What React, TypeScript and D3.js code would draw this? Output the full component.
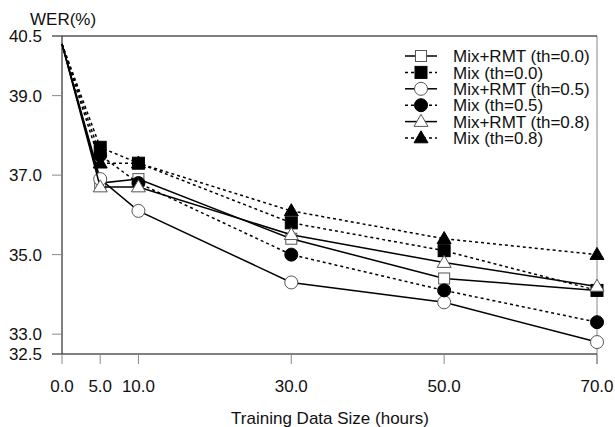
import React from 'react';
import * as d3 from 'd3';

const hours = [0, 5, 10, 30, 50, 70];
const xTicks = [0, 5, 10, 30, 50, 70];
const yTicks = [32.5, 33.0, 35.0, 37.0, 39.0, 40.5];

const seriesNames = [
  'Mix+RMT (th=0.0)',
  'Mix (th=0.0)',
  'Mix+RMT (th=0.5)',
  'Mix (th=0.5)',
  'Mix+RMT (th=0.8)',
  'Mix (th=0.8)',
];
const rmt00 = [40.3, 36.8, 36.9, 35.4, 34.4, 34.1];
const mix00 = [40.3, 37.7, 37.3, 35.8, 35.1, 34.1];
const rmt05 = [40.3, 36.9, 36.1, 34.3, 33.8, 32.8];
const mix05 = [40.3, 37.5, 36.8, 35.0, 34.1, 33.3];
const rmt08 = [40.3, 36.7, 36.7, 35.5, 34.8, 34.2];
const mix08 = [40.3, 37.3, 37.3, 36.1, 35.4, 35.0];

const seriesValues = [rmt00, mix00, rmt05, mix05, rmt08, mix08];
const shapes = ['square', 'square', 'circle', 'circle', 'triangle', 'triangle'];
const filled = [false, true, false, true, false, true];

const FONT = '"Liberation Sans", Arial, sans-serif';

function Marker({ shape, fill, cx, cy }: { shape: string; fill: boolean; cx: number; cy: number }) {
  const stroke = fill ? '#000' : '#555';
  const f = fill ? '#000' : '#fff';
  if (shape === 'square') {
    const s = fill ? 12 : 11;
    return <rect x={cx - s / 2} y={cy - s / 2} width={s} height={s} fill={f} stroke={stroke} strokeWidth={1} />;
  }
  if (shape === 'circle') {
    return <circle cx={cx} cy={cy} r={6.5} fill={f} stroke={stroke} strokeWidth={1} />;
  }
  const w = 14, h = 12;
  const pts = [[cx, cy - h * 0.6], [cx - w / 2, cy + h * 0.4], [cx + w / 2, cy + h * 0.4]];
  return <polygon points={pts.map(p => p.join(',')).join(' ')} fill={f} stroke={stroke} strokeWidth={1} />;
}

export default function App() {
  const width = 615;
  const height = 427;
  const left = 62, right = 597, top = 36, bottom = 354;

  const x = d3.scaleLinear().domain([0, 70]).range([left, right]);
  const y = d3.scaleLinear().domain([32.5, 40.5]).range([bottom, top]);
  const line = d3.line<number>().x((_, i) => x(hours[i])).y(d => y(d));

  const legendY0 = 56;
  const legendStep = 16.4;
  const fs = 17;

  return (
    <svg width={width} height={height} style={{ position: 'absolute', left: 0, top: 0 }} fontFamily={FONT}>
      <rect width={width} height={height} fill="#fff" />
      {/* frame */}
      <line x1={right} x2={right} y1={top} y2={bottom + 10} stroke="#888" strokeWidth={1} />
      <line x1={left - 10} x2={right} y1={top} y2={top} stroke="#000" strokeWidth={1} />
      <line x1={left - 10} x2={right} y1={bottom} y2={bottom} stroke="#000" strokeWidth={1} />
      <line x1={left} x2={left} y1={top} y2={bottom} stroke="#000" strokeWidth={1} />
      {yTicks.map(t => (
        <g key={'y' + t}>
          <line x1={left - 10} x2={left} y1={y(t)} y2={y(t)} stroke="#888" strokeWidth={1} />
          <text x={left - 20} y={y(t)} dy="0.36em" textAnchor="end" fontSize={fs} fill="#111">{t.toFixed(1)}</text>
        </g>
      ))}
      {xTicks.map(t => (
        <g key={'x' + t}>
          <line x1={x(t)} x2={x(t)} y1={bottom} y2={bottom + 10} stroke="#888" strokeWidth={1} />
          <text x={x(t)} y={392} textAnchor="middle" fontSize={fs} fill="#111">{t.toFixed(1)}</text>
        </g>
      ))}
      <text x={30} y={25} fontSize={fs} fill="#111">WER(%)</text>
      <text x={330} y={424} textAnchor="middle" fontSize={fs} fill="#111">Training Data Size (hours)</text>

      {seriesValues.map((vals, si) => (
        <g key={'s' + si}>
          <path d={line(vals) || ''} fill="none" stroke="#000" strokeWidth={1.5}
            strokeDasharray={filled[si] ? '3,3' : undefined} />
          {vals.slice(1).map((v, i) => (
            <Marker key={i} shape={shapes[si]} fill={filled[si]} cx={x(hours[i + 1])} cy={y(v)} />
          ))}
        </g>
      ))}

      {seriesNames.map((name, i) => {
        const ly = legendY0 + i * legendStep;
        return (
          <g key={'l' + i}>
            <line x1={405} x2={437} y1={ly} y2={ly} stroke="#000" strokeWidth={1.5}
              strokeDasharray={filled[i] ? '3,3' : undefined} />
            <Marker shape={shapes[i]} fill={filled[i]} cx={421} cy={ly} />
            <text x={453} y={ly} dy="0.36em" fontSize={fs} fill="#111">{name}</text>
          </g>
        );
      })}
    </svg>
  );
}
